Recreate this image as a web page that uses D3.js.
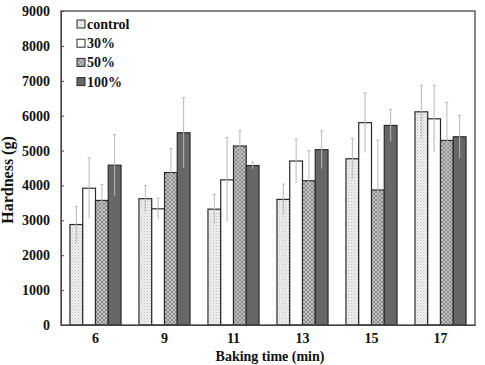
<!DOCTYPE html>
<html>
<head>
<meta charset="utf-8">
<script src="https://cdn.jsdelivr.net/npm/d3@7"></script>
<style>
  body { margin: 0; background: #fff; }
  text { font-family: "Liberation Serif", "Times New Roman", serif; font-weight: bold; fill: #111; }
</style>
</head>
<body>
<script>
var width = 485, height = 365;
var margin = { top: 11, right: 10, bottom: 40, left: 61 };

// data
var times = ["6", "9", "11", "13", "15", "17"];
var series = ["control", "30%", "50%", "100%"];
var control = [2880, 3620, 3320, 3600, 4765, 6110];
var p30 = [3920, 3330, 4160, 4700, 5800, 5910];
var p50 = [3570, 4370, 5130, 4135, 3870, 5290];
var p100 = [4580, 5510, 4570, 5025, 5720, 5395];
var errControl = [520, 380, 420, 440, 585, 760];
var err30 = [870, 310, 1210, 630, 855, 960];
var err50 = [460, 690, 450, 860, 1430, 1090];
var err100 = [880, 1010, 100, 545, 460, 615];
var yTicks = [0, 1000, 2000, 3000, 4000, 5000, 6000, 7000, 8000, 9000];

var values = [control, p30, p50, p100];
var errors = [errControl, err30, err50, err100];
var fills = ["url(#dots)", "#fff", "url(#hatch)", "#676767"];

var rows = [];
times.forEach(function (t, i) {
  series.forEach(function (s, j) {
    rows.push({ time: t, series: s, value: values[j][i], err: errors[j][i], k: j });
  });
});

var svg = d3.select("body").append("svg")
  .attr("width", width)
  .attr("height", height);

var defs = svg.append("defs");

// stippled light fill for control
var dots = defs.append("pattern")
  .attr("id", "dots")
  .attr("width", 3).attr("height", 3)
  .attr("patternUnits", "userSpaceOnUse");
dots.append("rect").attr("width", 3).attr("height", 3).attr("fill", "#efefef");
dots.append("rect").attr("x", 0).attr("y", 0).attr("width", 1).attr("height", 1).attr("fill", "#bdbdbd");
dots.append("rect").attr("x", 1.5).attr("y", 1.5).attr("width", 1).attr("height", 1).attr("fill", "#d0d0d0");

// cross hatch for 50%
var hatch = defs.append("pattern")
  .attr("id", "hatch")
  .attr("width", 4).attr("height", 4)
  .attr("patternUnits", "userSpaceOnUse");
hatch.append("rect").attr("width", 4).attr("height", 4).attr("fill", "#c4c4c4");
hatch.append("path").attr("d", "M0,0L4,4M4,0L0,4").attr("stroke", "#8a8a8a").attr("stroke-width", 1);

var x0 = d3.scaleBand()
  .domain(times)
  .range([margin.left, width - margin.right])
  .paddingInner(0.26)
  .paddingOuter(0.13);

var x1 = d3.scaleBand()
  .domain(series)
  .range([0, x0.bandwidth()]);

var y = d3.scaleLinear()
  .domain([0, 9000])
  .range([height - margin.bottom, margin.top]);

// bars
svg.append("g")
  .selectAll("rect")
  .data(rows)
  .join("rect")
  .attr("x", function (d) { return x0(d.time) + x1(d.series); })
  .attr("y", function (d) { return y(d.value); })
  .attr("width", x1.bandwidth())
  .attr("height", function (d) { return y(0) - y(d.value); })
  .attr("fill", function (d) { return fills[d.k]; })
  .attr("stroke", "#2a2a2a")
  .attr("stroke-width", 1.2);

// error bars
var eb = svg.append("g")
  .attr("stroke", "#b8b8b8")
  .attr("stroke-width", 1);

eb.selectAll("line.v")
  .data(rows)
  .join("line")
  .attr("class", "v")
  .attr("x1", function (d) { return x0(d.time) + x1(d.series) + x1.bandwidth() / 2; })
  .attr("x2", function (d) { return x0(d.time) + x1(d.series) + x1.bandwidth() / 2; })
  .attr("y1", function (d) { return y(d.value + d.err); })
  .attr("y2", function (d) { return y(d.value - d.err); });

eb.selectAll("line.t")
  .data(rows)
  .join("line")
  .attr("class", "t")
  .attr("x1", function (d) { return x0(d.time) + x1(d.series) + x1.bandwidth() / 2 - 1.5; })
  .attr("x2", function (d) { return x0(d.time) + x1(d.series) + x1.bandwidth() / 2 + 1.5; })
  .attr("y1", function (d) { return y(d.value + d.err); })
  .attr("y2", function (d) { return y(d.value + d.err); });

// frame
svg.append("rect")
  .attr("x", margin.left)
  .attr("y", margin.top)
  .attr("width", width - margin.left - margin.right)
  .attr("height", height - margin.top - margin.bottom)
  .attr("fill", "none")
  .attr("stroke", "#444")
  .attr("stroke-width", 1.3);

// y axis
var yAxis = svg.append("g")
  .attr("transform", "translate(" + margin.left + ",0)")
  .call(d3.axisLeft(y).tickValues(yTicks).tickSize(-3).tickPadding(11).tickFormat(d3.format("d")));
yAxis.select(".domain").attr("stroke", "#444");
yAxis.selectAll(".tick line").attr("stroke", "#444");
yAxis.selectAll("text")
  .style("font-size", "14px")
  .style("font-family", "Liberation Serif, serif")
  .style("font-weight", "bold")
  .attr("fill", "#111");

// x axis
var xAxis = svg.append("g")
  .attr("transform", "translate(0," + (height - margin.bottom) + ")")
  .call(d3.axisBottom(x0).tickSize(0).tickPadding(8));
xAxis.select(".domain").attr("stroke", "#444");
xAxis.selectAll("text")
  .style("font-size", "14px")
  .style("font-family", "Liberation Serif, serif")
  .style("font-weight", "bold")
  .attr("fill", "#111");

// axis titles
svg.append("text")
  .attr("x", 270)
  .attr("y", 361)
  .attr("text-anchor", "middle")
  .style("font-size", "14px")
  .text("Baking time (min)");

svg.append("text")
  .attr("transform", "translate(13,180) rotate(-90)")
  .attr("text-anchor", "middle")
  .style("font-size", "16px")
  .text("Hardness (g)");

// legend
var legend = svg.append("g")
  .attr("transform", "translate(77,24)");

var item = legend.selectAll("g")
  .data(series)
  .join("g")
  .attr("transform", function (d, i) { return "translate(0," + (i * 19.2) + ")"; });

item.append("rect")
  .attr("x", 0).attr("y", -4)
  .attr("width", 8).attr("height", 8)
  .attr("fill", function (d, i) { return fills[i]; })
  .attr("stroke", "#2a2a2a")
  .attr("stroke-width", 1);

item.append("text")
  .attr("x", 10)
  .attr("y", 5)
  .style("font-size", "14px")
  .text(function (d) { return d; });
</script>
</body>
</html>
